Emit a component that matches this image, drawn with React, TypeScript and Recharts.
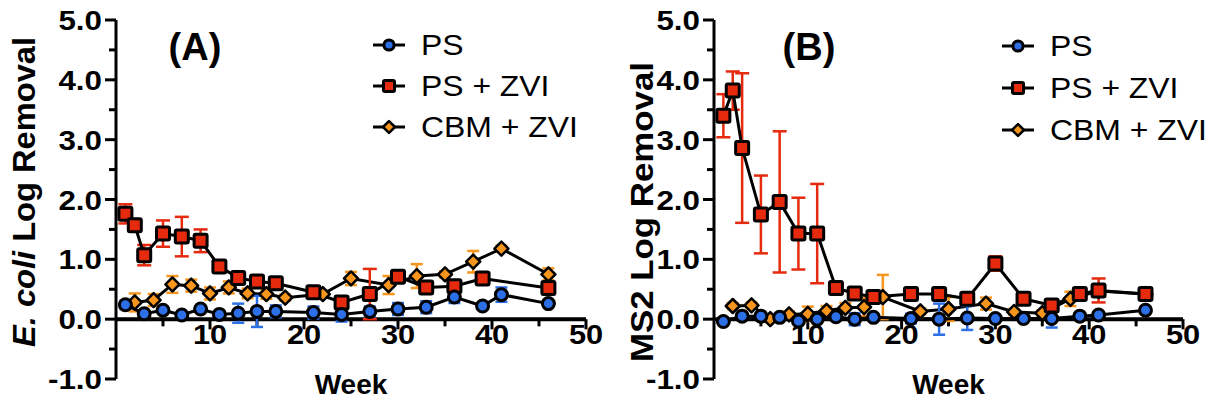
import React from "react";
import {
  LineChart,
  Line,
  XAxis,
  YAxis,
  ErrorBar,
  ReferenceLine,
  ReferenceDot,
} from "recharts";

// ---- data ----
const psWeeksA = [1, 3, 5, 7, 9, 11, 13, 15, 17, 21, 24, 27, 30, 33, 36, 39, 41, 46];
const psValsA = [0.24, 0.09, 0.15, 0.07, 0.17, 0.08, 0.1, 0.13, 0.13, 0.11, 0.08, 0.13, 0.17, 0.2, 0.37, 0.22, 0.41, 0.26];
const psErrA = [0.07, 0.03, 0.03, 0.03, 0.04, 0.03, 0.16, 0.26, 0.1, 0.1, 0.12, 0.08, 0.1, 0.1, 0.1, 0.05, 0.12, 0.05];

const zviWeeksA = [1, 2, 3, 5, 7, 9, 11, 13, 15, 17, 21, 24, 27, 30, 33, 36, 39, 46];
const zviValsA = [1.76, 1.57, 1.07, 1.43, 1.38, 1.31, 0.88, 0.69, 0.63, 0.6, 0.45, 0.28, 0.42, 0.71, 0.53, 0.55, 0.68, 0.52];
const zviErrA = [0.16, 0.1, 0.17, 0.22, 0.33, 0.19, 0.05, 0.05, 0.05, 0.05, 0.05, 0.1, 0.42, 0.08, 0.05, 0.05, 0.08, 0.1];

const cbmWeeksA = [2, 4, 6, 8, 10, 12, 14, 16, 18, 22, 25, 29, 32, 35, 38, 41, 46];
const cbmValsA = [0.28, 0.32, 0.58, 0.56, 0.43, 0.53, 0.43, 0.42, 0.36, 0.42, 0.68, 0.57, 0.72, 0.75, 0.96, 1.18, 0.75];
const cbmErrA = [0.15, 0.1, 0.14, 0.1, 0.1, 0.1, 0.08, 0.08, 0.05, 0.05, 0.11, 0.15, 0.2, 0.05, 0.18, 0.05, 0.1];

const psWeeksB = [1, 3, 5, 7, 9, 11, 13, 15, 17, 21, 24, 27, 30, 33, 36, 39, 41, 46];
const psValsB = [-0.04, 0.05, 0.05, 0.03, -0.03, 0.0, 0.04, 0.0, 0.03, 0.01, 0.0, 0.02, 0.01, 0.01, 0.01, 0.05, 0.07, 0.15];
const psErrB = [0.03, 0.03, 0.03, 0.03, 0.03, 0.03, 0.03, 0.1, 0.03, 0.08, 0.26, 0.2, 0.03, 0.03, 0.15, 0.05, 0.05, 0.05];

const zviWeeksB = [1, 2, 3, 5, 7, 9, 11, 13, 15, 17, 21, 24, 27, 30, 33, 36, 39, 41, 46];
const zviValsB = [3.4, 3.82, 2.86, 1.75, 1.96, 1.43, 1.43, 0.52, 0.43, 0.37, 0.42, 0.42, 0.34, 0.93, 0.34, 0.23, 0.42, 0.48, 0.42];
const zviErrB = [0.36, 0.32, 1.25, 0.65, 1.18, 0.6, 0.83, 0.05, 0.08, 0.05, 0.05, 0.05, 0.05, 0.12, 0.05, 0.05, 0.05, 0.2, 0.05];

const cbmWeeksB = [2, 4, 6, 8, 10, 12, 14, 16, 18, 22, 25, 29, 32, 35, 38, 41, 46];
const cbmValsB = [0.22, 0.23, 0.0, 0.08, 0.09, 0.14, 0.19, 0.2, 0.37, 0.13, 0.17, 0.26, 0.12, 0.1, 0.34, 0.47, 0.42];
const cbmErrB = [0.05, 0.05, 0.05, 0.05, 0.12, 0.08, 0.08, 0.15, 0.37, 0.05, 0.2, 0.1, 0.05, 0.05, 0.12, 0.07, 0.05];

const yTicks = [-1, -0.5, 0, 0.5, 1, 1.5, 2, 2.5, 3, 3.5, 4, 4.5, 5];
const xTicks = [5, 10, 15, 20, 25, 30, 35, 40, 45, 50];
const xLabels = [10, 20, 30, 40, 50];
const seriesNames = ["PS", "PS + ZVI", "CBM + ZVI"];

const BLUE = "#2c6fe6";
const RED = "#e52a0e";
const ORANGE = "#f7951c";
const FONT = '"Liberation Sans", Arial, sans-serif';

const build = (weeks: number[], vals: number[], errs: number[]) =>
  weeks.map((w, i) => ({ week: w, value: vals[i], err: errs[i] }));

const Marker = ({ kind, cx, cy, size = 1 }: any) => {
  if (cx == null || cy == null) return null;
  if (kind === "circle")
    return <circle cx={cx} cy={cy} r={6 * size} fill={BLUE} stroke="#000" strokeWidth={3} />;
  if (kind === "square")
    return <rect x={cx - 6.5 * size} y={cy - 6.5 * size} width={13 * size} height={13 * size} rx={1.5} fill={RED} stroke="#000" strokeWidth={3} />;
  const d = 7 * size;
  return (
    <polygon
      points={`${cx},${cy - d} ${cx + d},${cy} ${cx},${cy + d} ${cx - d},${cy}`}
      fill={ORANGE}
      stroke="#000"
      strokeWidth={2.5}
      strokeLinejoin="round"
    />
  );
};

// y ticks: long ticks + labels on whole numbers, short ticks on halves
const YTick = (props: any) => {
  const { x, y, payload } = props;
  const v = payload.value as number;
  const major = Number.isInteger(v);
  return (
    <g>
      <line x1={x} x2={x - (major ? 11 : 7)} y1={y} y2={y} stroke="#000" strokeWidth={3} />
      {major && (
        <text
          transform={`translate(${x - 14},${y + 10}) scale(1.12,1)`}
          textAnchor="end"
          fontFamily={FONT}
          fontWeight="bold"
          fontSize={28}
          fill="#000"
        >
          {v.toFixed(1)}
        </text>
      )}
    </g>
  );
};

const Panel = ({ ps, zvi, cbm, width, yWidth, right }: any) => (
  <LineChart width={width} height={406} margin={{ top: 20, right, left: 0, bottom: 0 }}>
    <XAxis
      type="number"
      dataKey="week"
      domain={[0, 50]}
      allowDataOverflow
      height={27}
      axisLine={false}
      tickLine={false}
      tick={false}
      label={{ value: "Week", position: "center", dy: -8, fontFamily: FONT, fontWeight: "bold", fontSize: 28, fill: "#000" }}
    />
    <YAxis
      type="number"
      domain={[-1, 5]}
      ticks={yTicks}
      interval={0}
      width={yWidth}
      axisLine={{ stroke: "#000", strokeWidth: 3 }}
      tickLine={false}
      tickSize={0}
      tickMargin={0}
      tick={<YTick />}
    />
    {/* x axis sits on y = 0 */}
    <ReferenceLine y={0} stroke="#000" strokeWidth={4} />
    {xTicks.map((t) => (
      <ReferenceLine
        key={"t" + t}
        segment={[{ x: t, y: 0 }, { x: t, y: t % 10 === 0 ? -0.17 : -0.12 }]}
        stroke="#000"
        strokeWidth={3}
      />
    ))}
    {xLabels.map((t) => (
      <ReferenceDot
        key={"l" + t}
        x={t}
        y={-0.25}
        r={0}
        ifOverflow="visible"
        shape={(p: any) => (
          <text
            transform={`translate(${p.cx},${p.cy + 10}) scale(1.1,1)`}
            textAnchor="middle"
            fontFamily={FONT}
            fontWeight="bold"
            fontSize={28}
            fill="#000"
          >
            {t}
          </text>
        )}
      />
    ))}
    <Line
      data={cbm}
      dataKey="value"
      type="linear"
      stroke="#000"
      strokeWidth={3}
      isAnimationActive={false}
      dot={(p: any) => <Marker key={p.index} kind="diamond" cx={p.cx} cy={p.cy} />}
    >
      <ErrorBar dataKey="err" direction="y" width={6} stroke={ORANGE} strokeWidth={2.5} />
    </Line>
    <Line
      data={zvi}
      dataKey="value"
      type="linear"
      stroke="#000"
      strokeWidth={3}
      isAnimationActive={false}
      dot={(p: any) => <Marker key={p.index} kind="square" cx={p.cx} cy={p.cy} />}
    >
      <ErrorBar dataKey="err" direction="y" width={7} stroke={RED} strokeWidth={2.5} />
    </Line>
    <Line
      data={ps}
      dataKey="value"
      type="linear"
      stroke="#000"
      strokeWidth={3}
      isAnimationActive={false}
      dot={(p: any) => <Marker key={p.index} kind="circle" cx={p.cx} cy={p.cy} />}
    >
      <ErrorBar dataKey="err" direction="y" width={6} stroke={BLUE} strokeWidth={2.5} />
    </Line>
  </LineChart>
);

const LegendBlock = ({ x, y0, gap }: { x: number; y0: number; gap: number }) => (
  <g>
    {seriesNames.map((name, i) => {
      const y = y0 + i * gap;
      const kind = i === 0 ? "circle" : i === 1 ? "square" : "diamond";
      return (
        <g key={name}>
          <line x1={x} x2={x + 32} y1={y} y2={y} stroke="#000" strokeWidth={3} />
          <Marker kind={kind} cx={x + 16} cy={y} size={0.85} />
          <text transform={`translate(${x + 48},${y + 10}) scale(1.1,1)`} fontFamily={FONT} fontSize={29} fill="#000">
            {name}
          </text>
        </g>
      );
    })}
  </g>
);

export default function App() {
  const dataA = {
    ps: build(psWeeksA, psValsA, psErrA),
    zvi: build(zviWeeksA, zviValsA, zviErrA),
    cbm: build(cbmWeeksA, cbmValsA, cbmErrA),
  };
  const dataB = {
    ps: build(psWeeksB, psValsB, psErrB),
    zvi: build(zviWeeksB, zviValsB, zviErrB),
    cbm: build(cbmWeeksB, cbmValsB, cbmErrB),
  };
  return (
    <div style={{ position: "absolute", left: 0, top: 0, width: 1217, height: 406, background: "#fff" }}>
      <div style={{ position: "absolute", left: 0, top: 0 }}>
        <Panel {...dataA} width={620} yWidth={116} right={34} />
      </div>
      <div style={{ position: "absolute", left: 600, top: 0 }}>
        <Panel {...dataB} width={617} yWidth={114} right={34} />
      </div>
      <svg width={1217} height={406} style={{ position: "absolute", left: 0, top: 0, pointerEvents: "none" }}>
        <text
          transform="translate(35,192) rotate(-90)"
          textAnchor="middle"
          textLength={310}
          lengthAdjust="spacingAndGlyphs"
          fontFamily={FONT}
          fontWeight="bold"
          fontSize={31}
          fill="#000"
        >
          <tspan fontStyle="italic">E. coli</tspan> Log Removal
        </text>
        <text
          transform="translate(653,212) rotate(-90)"
          textAnchor="middle"
          textLength={300}
          lengthAdjust="spacingAndGlyphs"
          fontFamily={FONT}
          fontWeight="bold"
          fontSize={31}
          fill="#000"
        >
          MS2 Log Removal
        </text>
        <text x={195} y={60} textAnchor="middle" fontFamily={FONT} fontWeight="bold" fontSize={38} fill="#000">
          (A)
        </text>
        <text x={809} y={60} textAnchor="middle" fontFamily={FONT} fontWeight="bold" fontSize={38} fill="#000">
          (B)
        </text>
        <LegendBlock x={373} y0={45} gap={41} />
        <LegendBlock x={1002} y0={46} gap={42} />
      </svg>
    </div>
  );
}
